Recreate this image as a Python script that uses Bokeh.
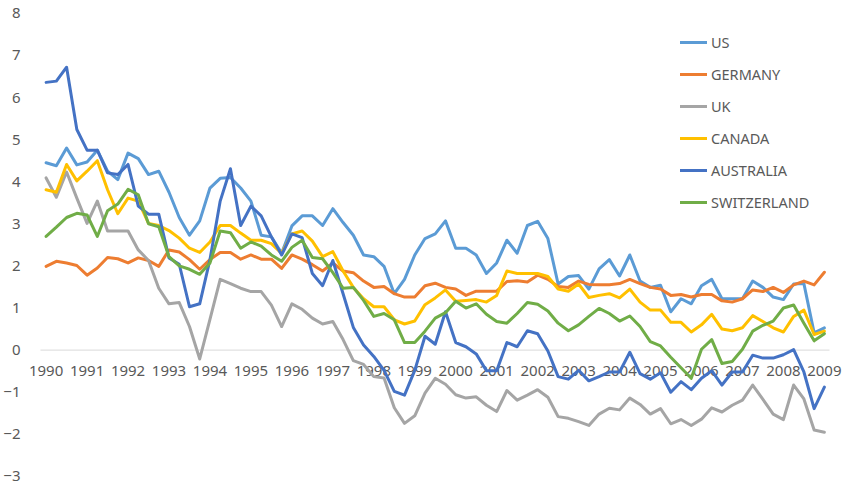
from bokeh.plotting import figure
from bokeh.models import FixedTicker, Legend, LegendItem, Range1d
from bokeh.embed import file_html
from bokeh.resources import INLINE

# quarterly observations 1990Q1 .. 2009Q1
quarters = list(range(77))
tick_positions = list(range(0, 77, 4))
tick_labels = ["1990", "1991", "1992", "1993", "1994", "1995", "1996", "1997", "1998", "1999",
               "2000", "2001", "2002", "2003", "2004", "2005", "2006", "2007", "2008", "2009"]
y_ticks = [-3, -2, -1, 0, 1, 2, 3, 4, 5, 6, 7, 8]

us = [4.45, 4.38, 4.8, 4.4, 4.47, 4.75, 4.25, 4.05, 4.68, 4.55,
      4.17, 4.25, 3.75, 3.15, 2.73, 3.07, 3.85, 4.08, 4.1, 3.85,
      3.54, 2.73, 2.69, 2.3, 2.95, 3.19, 3.19, 2.96, 3.36, 3.03,
      2.73, 2.26, 2.22, 1.99, 1.34, 1.68, 2.26, 2.65, 2.76, 3.07,
      2.42, 2.42, 2.26, 1.82, 2.07, 2.61, 2.3, 2.96, 3.06, 2.65,
      1.57, 1.75, 1.77, 1.45, 1.93, 2.15, 1.76, 2.26, 1.64, 1.49,
      1.54, 0.91, 1.22, 1.1, 1.53, 1.68, 1.22, 1.22, 1.22, 1.64,
      1.49, 1.26, 1.2, 1.57, 1.58, 0.41, 0.53]
germany = [1.99, 2.11, 2.07, 2.01, 1.78, 1.95, 2.2, 2.17, 2.07, 2.19, 2.13, 1.99, 2.38, 2.33,
           2.15, 1.92, 2.15, 2.32, 2.32, 2.16, 2.26, 2.16, 2.16, 1.94, 2.26, 2.16, 2.03,
           1.88, 2.07, 1.88, 1.84, 1.64, 1.49, 1.51, 1.34, 1.26, 1.26, 1.53, 1.59, 1.49,
           1.45, 1.3, 1.4, 1.4, 1.4, 1.63, 1.65, 1.62, 1.78, 1.68, 1.51, 1.49, 1.64, 1.56,
           1.55, 1.55, 1.58, 1.68, 1.58, 1.49, 1.45, 1.3, 1.32, 1.26, 1.32, 1.32, 1.17,
           1.14, 1.22, 1.43, 1.39, 1.49, 1.37, 1.55, 1.64, 1.55, 1.85]
uk = [4.09, 3.63, 4.23, 3.61, 3.01, 3.54, 2.83, 2.83, 2.83, 2.38, 2.13, 1.47, 1.1, 1.13,
      0.56, -0.21, 0.73, 1.68, 1.58, 1.47, 1.39, 1.39, 1.07, 0.56, 1.1, 0.97, 0.76,
      0.62, 0.68, 0.25, -0.25, -0.34, -0.63, -0.66, -1.37, -1.74, -1.56, -1.02, -0.67, -0.81,
      -1.06, -1.14, -1.11, -1.31, -1.46, -0.96, -1.19, -1.07, -0.94, -1.12, -1.58, -1.62, -1.7, -1.79,
      -1.52, -1.38, -1.42, -1.14, -1.29, -1.52, -1.39, -1.75, -1.65, -1.79, -1.64, -1.37, -1.47,
      -1.31, -1.19, -0.83, -1.17, -1.52, -1.65, -0.83, -1.16, -1.9, -1.95]
canada = [3.81, 3.75, 4.41, 4.02, 4.25, 4.5, 3.81, 3.24, 3.61, 3.54, 3.01, 2.96, 2.84, 2.66,
          2.42, 2.32, 2.57, 2.96, 2.96, 2.78, 2.61, 2.61, 2.53, 2.3, 2.76, 2.83, 2.59,
          2.22, 2.34, 1.88, 1.49, 1.22, 1.03, 1.03, 0.72, 0.62, 0.69, 1.08, 1.24, 1.43,
          1.16, 1.18, 1.2, 1.14, 1.3, 1.88, 1.82, 1.82, 1.82, 1.75, 1.45, 1.4, 1.57, 1.25,
          1.3, 1.34, 1.24, 1.45, 1.14, 0.95, 0.95, 0.66, 0.66, 0.43, 0.6, 0.85, 0.5,
          0.46, 0.53, 0.82, 0.68, 0.53, 0.43, 0.8, 0.95, 0.37, 0.45]
australia = [6.36, 6.39, 6.72, 5.24, 4.75, 4.75, 4.21, 4.17, 4.41, 3.42, 3.23, 3.23, 2.19, 2.04,
             1.03, 1.1, 2.15, 3.54, 4.31, 2.96, 3.42, 3.19, 2.69, 2.26, 2.76, 2.67, 1.82,
             1.53, 2.13, 1.34, 0.54, 0.12, -0.15, -0.48, -0.98, -1.07, -0.48, 0.33, 0.14, 0.91,
             0.18, 0.08, -0.09, -0.49, -0.49, 0.18, 0.08, 0.46, 0.39, -0.02, -0.63, -0.69, -0.48, -0.73,
             -0.63, -0.52, -0.52, -0.05, -0.56, -0.69, -0.54, -1.0, -0.75, -0.94, -0.67, -0.49, -0.83,
             -0.52, -0.52, -0.12, -0.19, -0.19, -0.11, 0.01, -0.52, -1.39, -0.88]
switzerland = [2.7, 2.92, 3.15, 3.25, 3.21, 2.7, 3.31, 3.47, 3.82, 3.69, 3.0, 2.93, 2.22, 2.0,
               1.92, 1.8, 2.07, 2.83, 2.79, 2.42, 2.57, 2.47, 2.26, 2.11, 2.44, 2.61, 2.2,
               2.17, 1.84, 1.47, 1.49, 1.18, 0.8, 0.87, 0.72, 0.18, 0.18, 0.45, 0.76, 0.89,
               1.16, 1.0, 1.1, 0.85, 0.68, 0.64, 0.87, 1.13, 1.09, 0.93, 0.64, 0.46, 0.6, 0.8,
               0.99, 0.87, 0.69, 0.81, 0.56, 0.2, 0.1, -0.17, -0.42, -0.67, 0.02, 0.25, -0.32,
               -0.27, 0.02, 0.45, 0.59, 0.69, 1.0, 1.07, 0.64, 0.22, 0.39]

series_names = ["US", "GERMANY", "UK", "CANADA", "AUSTRALIA", "SWITZERLAND"]
series_values = [us, germany, uk, canada, australia, switzerland]
series_colors = ["#5B9BD5", "#ED7D31", "#A5A5A5", "#FFC000", "#4472C4", "#70AD47"]

FONT = "Noto Sans"
TEXT = "#595959"

p = figure(width=842, height=486, x_range=Range1d(-1.72, 77.77), y_range=Range1d(-3.24, 8.21),
           output_backend="svg", toolbar_location=None,
           min_border_left=20, min_border_right=0, min_border_top=4, min_border_bottom=0)
p.outline_line_color = None
p.xgrid.visible = False
p.ygrid.visible = False

# zero line spanning the category area
p.segment(x0=[quarters[0] - 0.55], y0=[0], x1=[quarters[-1] + 0.5], y1=[0],
          line_color="#D9D9D9", line_width=1, level="underlay")

xa = p.xaxis[0]
xa.fixed_location = 0
xa.level = "underlay"
xa.ticker = FixedTicker(ticks=tick_positions)
xa.major_label_overrides = {pos: lab for pos, lab in zip(tick_positions, tick_labels)}
xa.axis_line_color = None
xa.major_tick_line_color = None
xa.minor_tick_line_color = None
xa.major_label_text_color = TEXT
xa.major_label_text_font = FONT
xa.major_label_text_font_size = "15px"
xa.major_label_standoff = 10

ya = p.yaxis[0]
ya.ticker = FixedTicker(ticks=y_ticks)
ya.axis_line_color = None
ya.major_tick_line_color = None
ya.minor_tick_line_color = None
ya.major_label_text_color = TEXT
ya.major_label_text_font = FONT
ya.major_label_text_font_size = "15px"
ya.major_label_standoff = 2

items = []
for name, vals, col in zip(series_names, series_values, series_colors):
    r = p.line(quarters, vals, line_color=col, line_width=3, line_join="round", line_cap="round")
    items.append(LegendItem(label=name, renderers=[r]))

legend = Legend(items=items, location=(652, 274), padding=0, margin=0, spacing=12,
                glyph_width=27, glyph_height=20, label_height=20, label_standoff=4,
                border_line_color=None, background_fill_alpha=0,
                label_text_font=FONT, label_text_font_size="14.5px", label_text_color=TEXT)
p.add_layout(legend)

open("out.html", "w").write(file_html(p, INLINE))
